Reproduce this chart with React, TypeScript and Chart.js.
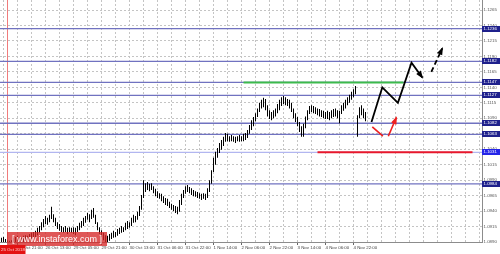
import React, { useEffect, useRef } from 'react';
import { Chart, registerables } from 'chart.js';

Chart.register(...registerables);

// ---- price bars (EURUSD-like), one entry per bar ----
const highs = [
  1.0897, 1.0898, 1.0895, 1.0893, 1.0892, 1.0893, 1.0897, 1.0898, 1.0900, 1.0898,
  1.0897, 1.0900, 1.0901, 1.0900, 1.0903, 1.0905, 1.0906, 1.0908, 1.0913, 1.0916,
  1.0922, 1.0927, 1.0932, 1.0929, 1.0934, 1.0947, 1.0935, 1.0929, 1.0922, 1.0919,
  1.0916, 1.0914, 1.0916, 1.0913, 1.0914, 1.0913, 1.0914, 1.0913, 1.0916, 1.0921,
  1.0924, 1.0929, 1.0932, 1.0937, 1.0935, 1.0942, 1.0945, 1.0934, 1.0922, 1.0914,
  1.0909, 1.0905, 1.0901, 1.0900, 1.0903, 1.0905, 1.0908, 1.0906, 1.0911, 1.0913,
  1.0916, 1.0914, 1.0921, 1.0924, 1.0922, 1.0929, 1.0934, 1.0932, 1.0939, 1.0948,
  1.0966, 1.0990, 1.0985, 1.0987, 1.0984, 1.0985, 1.0980, 1.0976, 1.0972, 1.0969,
  1.0968, 1.0964, 1.0961, 1.0960, 1.0955, 1.0952, 1.0950, 1.0948, 1.0947, 1.0958,
  1.0968, 1.0974, 1.0980, 1.0982, 1.0979, 1.0977, 1.0974, 1.0972, 1.0971, 1.0969,
  1.0968, 1.0969, 1.0968, 1.0977, 1.0990, 1.1006, 1.1026, 1.1036, 1.1042, 1.1050,
  1.1055, 1.1060, 1.1066, 1.1065, 1.1061, 1.1063, 1.1061, 1.1060, 1.1061, 1.1063,
  1.1061, 1.1065, 1.1066, 1.1071, 1.1079, 1.1087, 1.1092, 1.1098, 1.1106, 1.1115,
  1.1120, 1.1123, 1.1121, 1.1111, 1.1103, 1.1100, 1.1103, 1.1106, 1.1113, 1.1120,
  1.1124, 1.1126, 1.1124, 1.1121, 1.1120, 1.1115, 1.1106, 1.1098, 1.1092, 1.1084,
  1.1077, 1.1081, 1.1093, 1.1103, 1.1110, 1.1111, 1.1110, 1.1108, 1.1106, 1.1105,
  1.1103, 1.1102, 1.1100, 1.1102, 1.1100, 1.1103, 1.1105, 1.1106, 1.1103, 1.1102,
  1.1111, 1.1115, 1.1120, 1.1124, 1.1128, 1.1133, 1.1137, 1.1142, 1.1095, 1.1108,
  1.1111, 1.1106, 1.1100,
];

const lows = [
  1.0887, 1.0888, 1.0884, 1.0882, 1.0882, 1.0884, 1.0887, 1.0890, 1.0892, 1.0888,
  1.0887, 1.0890, 1.0892, 1.0893, 1.0893, 1.0895, 1.0897, 1.0898, 1.0901, 1.0905,
  1.0909, 1.0914, 1.0919, 1.0918, 1.0922, 1.0927, 1.0922, 1.0916, 1.0911, 1.0908,
  1.0906, 1.0905, 1.0906, 1.0903, 1.0906, 1.0905, 1.0903, 1.0901, 1.0906, 1.0909,
  1.0913, 1.0916, 1.0921, 1.0926, 1.0922, 1.0927, 1.0929, 1.0919, 1.0909, 1.0903,
  1.0898, 1.0893, 1.0890, 1.0888, 1.0892, 1.0895, 1.0897, 1.0898, 1.0900, 1.0903,
  1.0905, 1.0906, 1.0909, 1.0911, 1.0913, 1.0916, 1.0921, 1.0922, 1.0926, 1.0932,
  1.0942, 1.0961, 1.0971, 1.0974, 1.0972, 1.0974, 1.0969, 1.0964, 1.0961, 1.0960,
  1.0956, 1.0953, 1.0950, 1.0948, 1.0945, 1.0942, 1.0940, 1.0937, 1.0935, 1.0939,
  1.0950, 1.0961, 1.0968, 1.0971, 1.0969, 1.0966, 1.0964, 1.0963, 1.0961, 1.0960,
  1.0958, 1.0960, 1.0958, 1.0961, 1.0971, 1.0984, 1.1003, 1.1015, 1.1026, 1.1034,
  1.1039, 1.1045, 1.1052, 1.1053, 1.1052, 1.1053, 1.1052, 1.1050, 1.1053, 1.1052,
  1.1053, 1.1053, 1.1055, 1.1058, 1.1065, 1.1071, 1.1077, 1.1085, 1.1092, 1.1100,
  1.1106, 1.1108, 1.1103, 1.1093, 1.1089, 1.1087, 1.1090, 1.1093, 1.1098, 1.1103,
  1.1110, 1.1113, 1.1111, 1.1110, 1.1106, 1.1100, 1.1090, 1.1084, 1.1077, 1.1068,
  1.1060, 1.1060, 1.1074, 1.1087, 1.1097, 1.1100, 1.1098, 1.1097, 1.1095, 1.1093,
  1.1092, 1.1090, 1.1089, 1.1089, 1.1087, 1.1090, 1.1092, 1.1093, 1.1090, 1.1082,
  1.1097, 1.1102, 1.1106, 1.1111, 1.1115, 1.1120, 1.1124, 1.1129, 1.1060, 1.1090,
  1.1095, 1.1090, 1.1085,
];

// ---- horizontal support / resistance levels ----
const levels = [1.1235, 1.1182, 1.1148, 1.1127, 1.1082, 1.1064, 1.1035, 1.0984];
const levelLabels = ['1.1236', '1.1182', '1.1147', '1.1127', '1.1082', '1.1063', '1.1031', '1.0984'];

// ---- time axis labels ----
const timeLabels = [
  '25 Oct 21:00', '26 Oct 13:00', '29 Oct 05:00', '29 Oct 21:00', '30 Oct 13:00',
  '31 Oct 06:00', '31 Oct 22:00', '1 Nov 14:00', '2 Nov 06:00', '2 Nov 22:00',
  '3 Nov 14:00', '4 Nov 06:00', '4 Nov 22:00',
];
const firstLabelBar = 8;
const labelEveryBars = 14;
const gridEveryBars = 7;
const firstGridBar = 1;

// ---- price ticks ----
const priceTickStart = 1.089;
const priceTickStep = 0.0025;
const priceTickCount = 16;

// ---- axis ranges ----
const xMin = -0.75;
const xMax = 240.25;
const yMin = 1.089;
const yMax = 1.12812;

// ---- drawn analysis ----
const greenLevel = 1.1148;
const greenFrom = 121;
const greenTo = 201;
const redLevel = 1.1035;
const redFrom = 158;
const redTo = 235.5;
const forecastPath: [number, number][] = [
  [185, 1.1084], [190.4, 1.114], [198.2, 1.1115], [205, 1.118], [210.4, 1.1156],
];
const forecastDashed: [number, number][] = [[214.9, 1.1165], [220.4, 1.1203]];
const redPathA: [number, number][] = [[185.4, 1.1076], [190.7, 1.1061]];
const redPathB: [number, number][] = [[193.4, 1.1061], [197.4, 1.1091]];
const cursorBar = 3;
const cursorLabel = '25 Oct 2018';

const FONT = 'Liberation Sans';

const toXY = (pts: [number, number][]) => pts.map(([x, y]) => ({ x, y }));

export default function App() {
  const ref = useRef<HTMLCanvasElement>(null);

  useEffect(() => {
    document.body.style.margin = '0';
    const canvas = ref.current;
    if (!canvas) return;

    const priceTicks: number[] = [];
    for (let k = 0; k < priceTickCount; k++) priceTicks.push(+(priceTickStart + k * priceTickStep).toFixed(4));
    const gridTicks: number[] = [];
    for (let v = firstGridBar; v <= xMax; v += gridEveryBars) gridTicks.push(v);
    const labelFor = (v: number) => {
      const d = v - firstLabelBar;
      if (d < 0 || d % labelEveryBars !== 0) return '';
      return timeLabels[d / labelEveryBars] || '';
    };

    const levelColor = (i: number) => (i === 6 ? 'rgb(178,182,240)' : 'rgb(112,114,192)');

    const datasets: any[] = [];
    datasets.push({
      type: 'bar',
      data: highs.map((h, i) => ({ x: i, y: [lows[i], h] })),
      backgroundColor: '#000',
      borderWidth: 0,
      barThickness: 1,
      inflateAmount: 0,
      grouped: false,
      order: 2,
    });
    levels.forEach((lv, i) => {
      datasets.push({
        type: 'line',
        data: [{ x: xMin, y: lv }, { x: xMax, y: lv }],
        borderColor: levelColor(i),
        borderWidth: 1.3,
        pointRadius: 0,
        order: 3,
      });
    });
    datasets.push({
      type: 'line',
      data: [{ x: cursorBar, y: yMin }, { x: cursorBar, y: yMax }],
      borderColor: '#f07c7c',
      borderWidth: 1,
      pointRadius: 0,
      order: 4,
    });
    datasets.push({
      type: 'line',
      data: [{ x: greenFrom, y: greenLevel }, { x: greenTo, y: greenLevel }],
      borderColor: '#3cba4c',
      borderWidth: 2,
      pointRadius: 0,
      order: 1,
    });
    datasets.push({
      type: 'line',
      data: [{ x: redFrom, y: redLevel }, { x: redTo, y: redLevel }],
      borderColor: '#e8182c',
      borderWidth: 2,
      pointRadius: 0,
      order: 1,
    });
    datasets.push({
      type: 'line', data: toXY(forecastPath), borderColor: '#000', borderWidth: 1.8,
      pointRadius: 0, order: 0, tension: 0,
    });
    datasets.push({
      type: 'line', data: toXY(forecastDashed), borderColor: '#000', borderWidth: 1.8,
      borderDash: [5, 3], pointRadius: 0, order: 0,
    });
    datasets.push({
      type: 'line', data: toXY(redPathA), borderColor: '#ee2020', borderWidth: 1.6,
      pointRadius: 0, order: 0,
    });
    datasets.push({
      type: 'line', data: toXY(redPathB), borderColor: '#ee2020', borderWidth: 1.6,
      pointRadius: 0, order: 0,
    });

    const arrows: { pts: [number, number][]; color: string }[] = [
      { pts: forecastPath, color: '#000' },
      { pts: forecastDashed, color: '#000' },
      { pts: redPathB, color: '#ee2020' },
    ];

    const overlay = {
      id: 'overlay',
      afterDatasetsDraw(chart: any) {
        const { ctx, scales } = chart;
        const xs = scales.x, ys = scales.y;
        arrows.forEach(({ pts, color }) => {
          const a = pts[pts.length - 2], b = pts[pts.length - 1];
          const p1 = { x: xs.getPixelForValue(a[0]), y: ys.getPixelForValue(a[1]) };
          const p2 = { x: xs.getPixelForValue(b[0]), y: ys.getPixelForValue(b[1]) };
          const ang = Math.atan2(p2.y - p1.y, p2.x - p1.x);
          const size = 7;
          ctx.save();
          ctx.fillStyle = color;
          ctx.beginPath();
          ctx.moveTo(p2.x + Math.cos(ang) * 1.5, p2.y + Math.sin(ang) * 1.5);
          ctx.lineTo(p2.x - size * Math.cos(ang - 0.42), p2.y - size * Math.sin(ang - 0.42));
          ctx.lineTo(p2.x - size * Math.cos(ang + 0.42), p2.y - size * Math.sin(ang + 0.42));
          ctx.closePath();
          ctx.fill();
          ctx.restore();
        });
      },
      afterDraw(chart: any) {
        const { ctx, scales, chartArea } = chart;
        const ys = scales.y, xs = scales.x;
        ctx.save();
        ctx.font = `4.4px "${FONT}"`;
        ctx.textBaseline = 'middle';
        ctx.textAlign = 'left';
        levels.forEach((lv, i) => {
          const y = ys.getPixelForValue(lv);
          ctx.fillStyle = i === 6 ? 'rgb(36,36,232)' : 'rgb(30,32,140)';
          ctx.fillRect(chartArea.right, Math.round(y) - 3, 500 - chartArea.right, 6);
          ctx.fillStyle = '#fff';
          ctx.fillText(levelLabels[i], chartArea.right + 1.5, Math.round(y));
        });
        // watermark
        ctx.fillStyle = 'rgba(214,40,40,0.78)';
        ctx.fillRect(7, 232, 100, 14);
        ctx.fillStyle = '#fff';
        ctx.font = `9px "${FONT}"`;
        ctx.textBaseline = 'middle';
        ctx.fillText('[ www.instaforex.com ]', 12, 239.5);
        // cursor time label
        const cx = xs.getPixelForValue(cursorBar);
        ctx.fillStyle = '#e31212';
        ctx.fillRect(0, chartArea.bottom + 3, cx + 18, 254 - chartArea.bottom - 3);
        ctx.fillStyle = '#ffd0d0';
        ctx.font = `4.4px "${FONT}"`;
        ctx.fillText(cursorLabel, 1, chartArea.bottom + 7.5);
        ctx.restore();
      },
    };

    const chart = new Chart(canvas, {
      type: 'bar',
      data: { datasets },
      plugins: [overlay],
      options: {
        animation: false,
        responsive: false,
        devicePixelRatio: 1,
        layout: { padding: 0 },
        plugins: { legend: { display: false }, tooltip: { enabled: false } },
        scales: {
          x: {
            type: 'linear',
            min: xMin,
            max: xMax,
            offset: false,
            afterBuildTicks: (s: any) => {
              s.ticks = gridTicks.map((v) => ({ value: v }));
            },
            afterFit: (s: any) => {
              s.height = 12;
              s.paddingLeft = 0;
              s.paddingRight = 0;
            },
            grid: {
              color: '#c4c4c4',
              offset: false,
              drawTicks: true,
              tickLength: 3,
              tickColor: (c: any) => (c.tick && labelFor(c.tick.value) ? '#666' : 'rgba(0,0,0,0)'),
            },
            border: { display: true, color: '#8c8c8c', dash: [2, 2] },
            ticks: {
              autoSkip: false,
              maxRotation: 0,
              minRotation: 0,
              align: 'start',
              padding: 0,
              color: '#444',
              font: { family: FONT, size: 4.4 },
              callback: (v: any) => labelFor(Number(v)),
            },
          },
          y: {
            type: 'linear',
            position: 'right',
            min: yMin,
            max: yMax,
            afterBuildTicks: (s: any) => {
              s.ticks = priceTicks.map((v) => ({ value: v }));
            },
            afterFit: (s: any) => {
              s.width = 18;
              s.paddingTop = 0;
              s.paddingBottom = 0;
            },
            grid: { color: '#c4c4c4', drawTicks: false },
            border: { display: true, color: '#8c8c8c', dash: [2, 2] },
            ticks: {
              autoSkip: false,
              padding: 1.5,
              color: '#555',
              font: { family: FONT, size: 4.4 },
              callback: (v: any) => Number(v).toFixed(4),
            },
          },
        },
      } as any,
    });

    return () => chart.destroy();
  }, []);

  return <canvas ref={ref} width={500} height={254} style={{ display: 'block' }} />;
}
